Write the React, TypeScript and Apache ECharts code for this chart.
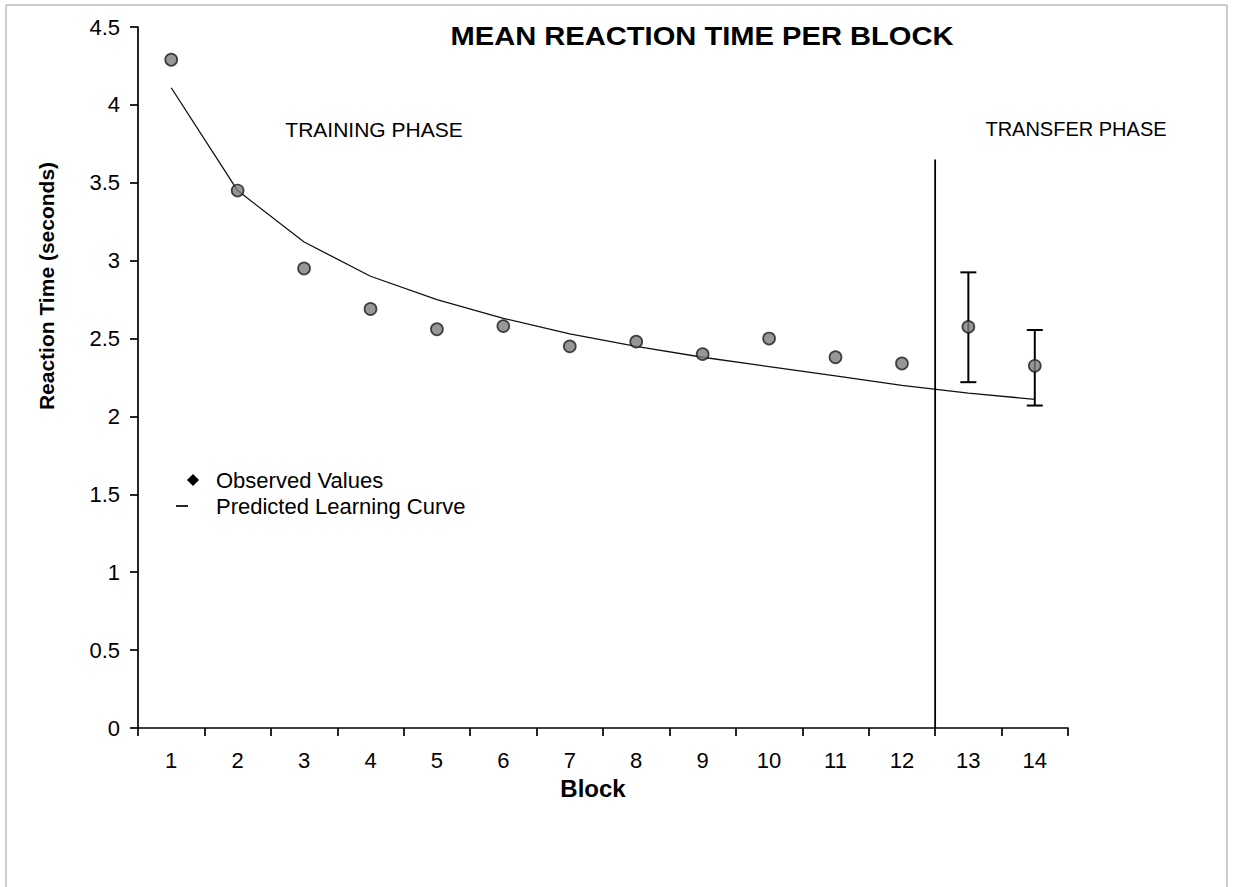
import React, { useEffect, useRef } from "react";
import * as echarts from "echarts";

const blocks = ["1", "2", "3", "4", "5", "6", "7", "8", "9", "10", "11", "12", "13", "14"];
const observed = [4.29, 3.45, 2.95, 2.69, 2.56, 2.58, 2.45, 2.48, 2.4, 2.5, 2.38, 2.34, 2.575, 2.325];
const predicted = [4.11, 3.45, 3.12, 2.9, 2.75, 2.63, 2.53, 2.45, 2.38, 2.32, 2.26, 2.2, 2.15, 2.11];
const errorBlocks = ["13", "14"];
const errorLow = [2.22, 2.07];
const errorHigh = [2.925, 2.555];
const phaseBoundary = 12.5;
const phaseLineTop = 3.65;
const yMin = 0;
const yMax = 4.5;
const yStep = 0.5;

const FONT = '"Liberation Sans", Arial, Helvetica, sans-serif';

export default function App() {
  const ref = useRef<HTMLDivElement>(null);

  useEffect(() => {
    if (!ref.current) return;
    const chart = echarts.init(ref.current, undefined, { renderer: "svg" });

    const errorData = errorBlocks.map((b, i) => [b, errorLow[i], errorHigh[i]]);

    const option: any = {
      animation: false,
      backgroundColor: "#ffffff",
      textStyle: { fontFamily: FONT, color: "#000" },
      grid: { left: 138, right: 165, top: 27, bottom: 159, containLabel: false },
      xAxis: [
        {
          type: "category",
          data: blocks,
          boundaryGap: true,
          axisLine: { show: true, lineStyle: { color: "#000", width: 1.7 } },
          axisTick: { show: true, length: 8, alignWithLabel: false, interval: 0, lineStyle: { color: "#000", width: 1.7 } },
          axisLabel: { interval: 0, fontSize: 22, color: "#000", fontFamily: FONT, margin: 21 },
          splitLine: { show: false },
        },
        {
          type: "value",
          min: 0.5,
          max: 14.5,
          show: false,
        },
      ],
      yAxis: {
        type: "value",
        min: yMin,
        max: yMax,
        interval: yStep,
        axisLine: { show: true, lineStyle: { color: "#000", width: 1.7 } },
        axisTick: { show: true, length: 8, lineStyle: { color: "#000", width: 1.7 } },
        axisLabel: { fontSize: 22, color: "#000", fontFamily: FONT, margin: 18 },
        splitLine: { show: false },
      },
      series: [
        {
          name: "Predicted Learning Curve",
          type: "line",
          xAxisIndex: 0,
          data: predicted,
          symbol: "none",
          smooth: false,
          lineStyle: { color: "#111", width: 1.3 },
          z: 2,
        },
        {
          name: "Phase boundary",
          type: "line",
          xAxisIndex: 1,
          data: [
            [phaseBoundary, yMin],
            [phaseBoundary, phaseLineTop],
          ],
          symbol: "none",
          lineStyle: { color: "#000", width: 1.8 },
          z: 2,
        },
        {
          name: "Error",
          type: "custom",
          xAxisIndex: 0,
          data: errorData,
          z: 3,
          renderItem: (params: any, api: any) => {
            const x = api.value(0);
            const lo = api.coord([x, api.value(1)]);
            const hi = api.coord([x, api.value(2)]);
            const half = 8;
            const style = { stroke: "#000", lineWidth: 2 };
            return {
              type: "group",
              children: [
                { type: "line", shape: { x1: lo[0], y1: lo[1], x2: hi[0], y2: hi[1] }, style },
                { type: "line", shape: { x1: hi[0] - half, y1: hi[1], x2: hi[0] + half, y2: hi[1] }, style },
                { type: "line", shape: { x1: lo[0] - half, y1: lo[1], x2: lo[0] + half, y2: lo[1] }, style },
              ],
            };
          },
        },
        {
          name: "Observed Values",
          type: "scatter",
          xAxisIndex: 0,
          data: observed,
          symbol: "circle",
          symbolSize: 12,
          itemStyle: { color: "#7d7d7d", borderColor: "#1a1a1a", borderWidth: 1.7 },
          z: 5,
        },
      ],
      graphic: [
        {
          type: "rect",
          shape: { x: 6, y: 5, width: 1221, height: 900 },
          style: { fill: "none", stroke: "#9a9a9a", lineWidth: 1 },
          silent: true,
        },
        {
          type: "text",
          x: 702,
          y: 36,
          scaleX: 1.12,
          style: {
            text: "MEAN REACTION TIME PER BLOCK",
            fontFamily: FONT,
            fontSize: 26,
            fontWeight: "bold",
            fill: "#000",
            align: "center",
            verticalAlign: "middle",
          },
        },
        {
          type: "text",
          x: 374,
          y: 129,
          style: {
            text: "TRAINING PHASE",
            fontFamily: FONT,
            fontSize: 21,
            fill: "#000",
            align: "center",
            verticalAlign: "middle",
          },
        },
        {
          type: "text",
          x: 1076,
          y: 129,
          style: {
            text: "TRANSFER PHASE",
            fontFamily: FONT,
            fontSize: 20,
            fill: "#000",
            align: "center",
            verticalAlign: "middle",
          },
        },
        {
          type: "text",
          x: 46,
          y: 286,
          rotation: Math.PI / 2,
          style: {
            text: "Reaction Time (seconds)",
            fontFamily: FONT,
            fontSize: 21,
            fontWeight: "bold",
            fill: "#000",
            align: "center",
            verticalAlign: "middle",
          },
        },
        {
          type: "text",
          x: 593,
          y: 788,
          style: {
            text: "Block",
            fontFamily: FONT,
            fontSize: 24,
            fontWeight: "bold",
            fill: "#000",
            align: "center",
            verticalAlign: "middle",
          },
        },
        {
          type: "polygon",
          shape: { points: [[193, 474], [199, 480], [193, 486], [187, 480]] },
          style: { fill: "#000" },
        },
        {
          type: "text",
          x: 216,
          y: 480,
          style: {
            text: "Observed Values",
            fontFamily: FONT,
            fontSize: 22,
            fill: "#000",
            align: "left",
            verticalAlign: "middle",
          },
        },
        {
          type: "line",
          shape: { x1: 176, y1: 506, x2: 188, y2: 506 },
          style: { stroke: "#000", lineWidth: 1.7 },
        },
        {
          type: "text",
          x: 216,
          y: 506,
          style: {
            text: "Predicted Learning Curve",
            fontFamily: FONT,
            fontSize: 22,
            fill: "#000",
            align: "left",
            verticalAlign: "middle",
          },
        },
      ],
    };

    chart.setOption(option);
    return () => {
      chart.dispose();
    };
  }, []);

  return (
    <div
      ref={ref}
      style={{ position: "fixed", left: 0, top: 0, width: 1233, height: 887, background: "#fff" }}
    />
  );
}
